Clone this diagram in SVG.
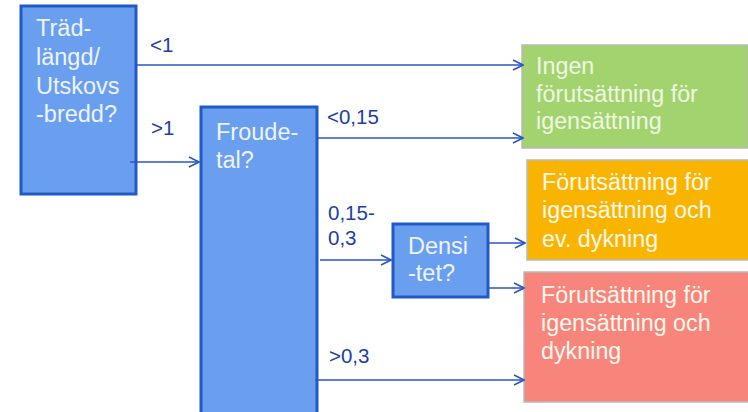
<svg xmlns="http://www.w3.org/2000/svg" width="748" height="412" viewBox="0 0 748 412">
  <defs>
    <style>
      .q { fill: #6a9ff0; stroke: #1e5bc8; stroke-width: 3; }
      .qt { font-family: "Liberation Sans", Arial, sans-serif; font-size: 23.5px; fill: #eef4ff; }
      .lbl { font-family: "Liberation Sans", Arial, sans-serif; font-size: 20.5px; fill: #1c3fa8; }
      .out { stroke: #b9b9b9; stroke-width: 1.5; }
      .ot { font-family: "Liberation Sans", Arial, sans-serif; font-size: 23.3px; fill: #fff8ee; }
      .ot.pale { fill: #eef7e2; }
      .conn { stroke: #2a55c4; stroke-width: 1.6; fill: none; marker-end: url(#chev); }
    </style>
    <marker id="chev" viewBox="0 0 12 12" refX="11" refY="6" markerWidth="12" markerHeight="12" markerUnits="userSpaceOnUse" orient="auto">
      <path d="M1,1 L11,6 L1,11" fill="none" stroke="#2a55c4" stroke-width="1.6"/>
    </marker>
  </defs>
  <rect width="748" height="412" fill="#ffffff"/>

  <!-- outcome boxes -->
  <g id="ingen">
    <rect class="out" x="522" y="45" width="226" height="103" fill="#a2d36e"/>
    <text class="ot pale" x="536" y="74">Ingen</text>
    <text class="ot pale" x="536" y="102">förutsättning för</text>
    <text class="ot pale" x="536" y="129">igensättning</text>
  </g>
  <g id="ev-dykning">
    <rect class="out" x="527" y="160" width="223" height="100" fill="#f9b400"/>
    <text class="ot" x="542" y="190">Förutsättning för</text>
    <text class="ot" x="542" y="218">igensättning och</text>
    <text class="ot" x="542" y="247">ev. dykning</text>
  </g>
  <g id="dykning">
    <rect class="out" x="524" y="272" width="226" height="130" fill="#f7857b"/>
    <text class="ot" x="541" y="303">Förutsättning för</text>
    <text class="ot" x="541" y="331">igensättning och</text>
    <text class="ot" x="541" y="359">dykning</text>
  </g>

  <!-- decision boxes -->
  <g id="tradlangd">
    <rect class="q" x="21" y="6" width="115" height="188"/>
    <text class="qt" x="36" y="36">Träd-</text>
    <text class="qt" x="36" y="65">längd/</text>
    <text class="qt" x="36" y="94">Utskovs</text>
    <text class="qt" x="36" y="122">-bredd?</text>
  </g>
  <g id="froude">
    <rect class="q" x="201" y="107" width="116" height="310"/>
    <text class="qt" x="216" y="140">Froude-</text>
    <text class="qt" x="216" y="168">tal?</text>
  </g>
  <g id="densitet">
    <rect class="q" x="393" y="224" width="95" height="73"/>
    <text class="qt" x="408" y="254">Densi</text>
    <text class="qt" x="408" y="281">-tet?</text>
  </g>

  <!-- connectors -->
  <g id="connectors">
    <path class="conn" d="M136,65 H523"/>
    <text class="lbl" x="150" y="52">&lt;1</text>
    <path class="conn" d="M130,162 H199"/>
    <text class="lbl" x="151" y="135">&gt;1</text>
    <path class="conn" d="M317,138 H523"/>
    <text class="lbl" x="327" y="124">&lt;0,15</text>
    <text class="lbl" x="328" y="220">0,15-</text>
    <text class="lbl" x="328" y="245">0,3</text>
    <path class="conn" d="M320,260 H391"/>
    <path class="conn" d="M488,243 H525"/>
    <path class="conn" d="M488,288 H524"/>
    <text class="lbl" x="329" y="363">&gt;0,3</text>
    <path class="conn" d="M315,380 H524"/>
  </g>
</svg>
